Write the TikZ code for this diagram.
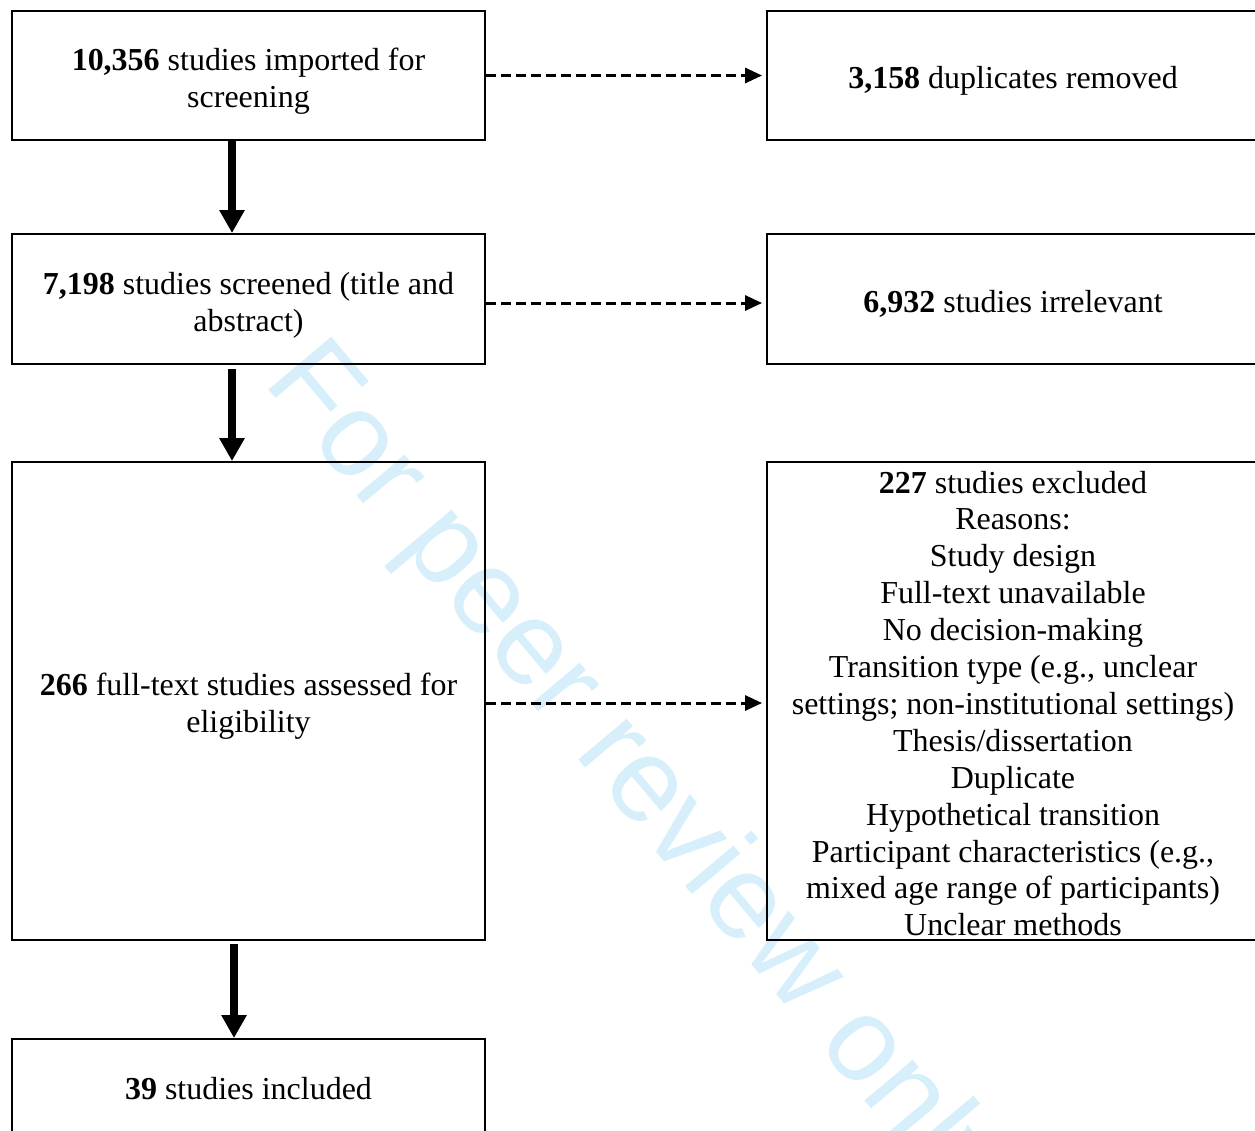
\documentclass[tikz,border=0pt]{standalone}
\usepackage{fontspec}
\setmainfont{Liberation Serif}
\newfontfamily\markfont{Liberation Sans}
\usetikzlibrary{arrows.meta}
\definecolor{markblue}{RGB}{214,239,251}

\begin{document}
\begin{tikzpicture}[x=0.02cm, y=-0.02cm]
   \tikzstyle{box}=[draw, line width=1.1pt, inner sep=0pt]
   \tikzstyle{txt}=[align=center, inner sep=0pt, font=\fontsize{18.2}{21}\selectfont]
   \tikzstyle{left box}=[box, minimum width=9.46cm]
   \tikzstyle{right box}=[box, minimum width=9.84cm]
   \tikzstyle{flow}=[-{Triangle[length=0.46cm,width=0.48cm]}, line width=4pt]
   \tikzstyle{skip}=[-{Triangle[length=0.34cm,width=0.3cm]}, line width=1.7pt, dash pattern=on 0.2cm off 0.1cm, shorten >=0.08cm]

\clip (0,0) rectangle (1255,1130);

% watermark behind everything
\node[text=markblue, font=\markfont\fontsize{68}{68}\selectfont, rotate=-50, anchor=base west, inner sep=0pt] (mark) at (262,382) {For peer review only};

% left column
\node[left box, minimum height=2.58cm, label={[txt, yshift=-0.12cm]center:{\textbf{10,356} studies imported for\\screening}}] (imp) at (248.5,75.5) {};
\node[left box, minimum height=2.6cm, label={[txt, yshift=-0.12cm]center:{\textbf{7,198} studies screened (title and\\abstract)}}] (scr) at (248.5,299) {};
\node[left box, minimum height=9.56cm, label={[txt, yshift=-0.11cm]center:{\textbf{266} full-text studies assessed for\\eligibility}}] (ful) at (248.5,701) {};
\node[left box, minimum height=1.92cm, label={[txt, yshift=-0.04cm]center:{\textbf{39} studies included}}] (inc) at (248.5,1087) {};

% right column
\node[right box, minimum height=2.58cm, label={[txt, yshift=-0.1cm]center:{\textbf{3,158} duplicates removed}}] (dup) at (1013,75.5) {};
\node[right box, minimum height=2.6cm, label={[txt, yshift=-0.1cm]center:{\textbf{6,932} studies irrelevant}}] (irr) at (1013,299) {};
\node[right box, minimum height=9.56cm, label={[txt, yshift=-0.05cm]center:{\textbf{227} studies excluded\\Reasons:\\Study design\\Full-text unavailable\\No decision-making\\Transition type (e.g., unclear\\settings; non-institutional settings)\\Thesis/dissertation\\Duplicate\\Hypothetical transition\\Participant characteristics (e.g.,\\mixed age range of participants)\\Unclear methods}}] (exc) at (1013,701) {};

% arrows
\draw[flow] ([xshift=-0.33cm]imp.south) -- ([xshift=-0.33cm]scr.north);
\draw[flow] ([xshift=-0.33cm,yshift=-0.08cm]scr.south) -- ([xshift=-0.33cm]ful.north);
\draw[flow] ([xshift=-0.29cm,yshift=-0.06cm]ful.south) -- ([xshift=-0.29cm]inc.north);

\draw[skip] (imp.east) -- (dup.west);
\draw[skip] ([yshift=-0.08cm]scr.east) -- ([yshift=-0.08cm]irr.west);
\draw[skip] ([yshift=-0.04cm]ful.east) -- ([yshift=-0.04cm]exc.west);

\end{tikzpicture}
\end{document}
